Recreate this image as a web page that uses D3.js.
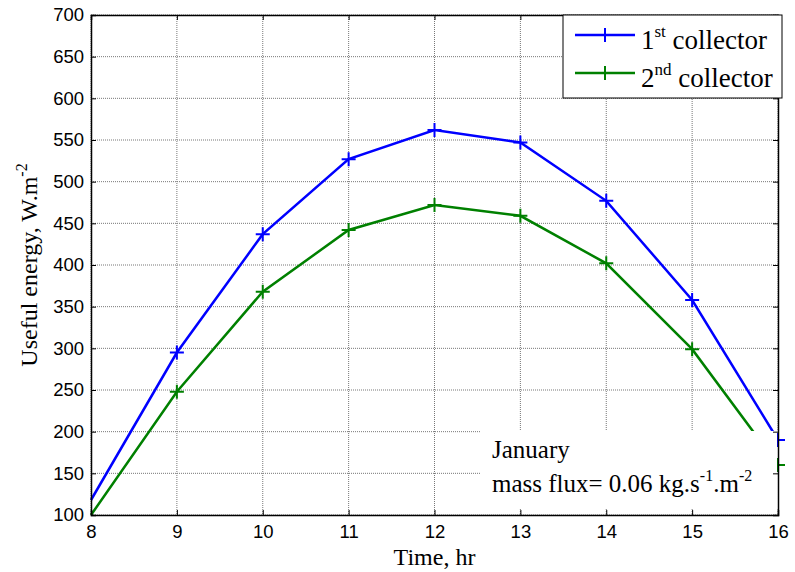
<!DOCTYPE html>
<html>
<head>
    <title>Useful energy</title>
    <script src="https://d3js.org/d3.v7.min.js"></script>
    <style>
        body { margin: 0; background: #fff; }
        .tick text { font-family: "Liberation Sans", Arial, sans-serif; font-size: 18.5px; fill: #000; }
        .lab { font-family: "Liberation Serif", "Times New Roman", serif; fill: #000; }
    </style>
</head>
<body>
    <svg id="chart"></svg>
    <script>
        const hours = [8, 9, 10, 11, 12, 13, 14, 15, 16];
        const collector1 = [118, 295, 437, 527, 562, 547, 477, 358, 190];
        const collector2 = [100, 248, 368, 442, 472, 459, 402, 299, 160];
        const xTicks = [8, 9, 10, 11, 12, 13, 14, 15, 16];
        const yTicks = [100, 150, 200, 250, 300, 350, 400, 450, 500, 550, 600, 650, 700];

        const width = 795, height = 572;
        const pLeft = 91, pRight = 778, pTop = 15, pBottom = 515;

        const svg = d3.select("#chart").attr("width", width).attr("height", height);

        const x = d3.scaleLinear().domain([8, 16]).range([pLeft, pRight]);
        const y = d3.scaleLinear().domain([100, 700]).range([pBottom, pTop]);

        // grid
        const grid = svg.append("g");
        grid.selectAll(".vg").data(xTicks).enter().append("line")
            .attr("x1", d => x(d)).attr("x2", d => x(d))
            .attr("y1", pTop).attr("y2", pBottom)
            .style("stroke", "#777").style("stroke-width", 1).style("stroke-dasharray", "1,1");
        grid.selectAll(".hg").data(yTicks).enter().append("line")
            .attr("x1", pLeft).attr("x2", pRight)
            .attr("y1", d => y(d)).attr("y2", d => y(d))
            .style("stroke", "#777").style("stroke-width", 1).style("stroke-dasharray", "1,1");

        const series = [
            { name: "1", sup: "st", values: collector1, color: "#0000ff" },
            { name: "2", sup: "nd", values: collector2, color: "#008000" }
        ];

        const line = d3.line().x((d, i) => x(hours[i])).y(d => y(d));

        function plus(g, cx, cy, color) {
            g.append("path")
                .attr("d", `M${cx - 7},${cy} H${cx + 7} M${cx},${cy - 7} V${cy + 7}`)
                .style("stroke", color).style("stroke-width", 2).style("fill", "none");
        }

        series.forEach(s => {
            svg.append("path").datum(s.values)
                .attr("d", line)
                .style("fill", "none").style("stroke", s.color).style("stroke-width", 2.5);
            const mg = svg.append("g");
            s.values.forEach((v, i) => {
                if (i > 0) plus(mg, x(hours[i]), y(v), s.color);
            });
        });

        // annotation box covering lines
        svg.append("rect")
            .attr("x", 480).attr("y", 431).attr("width", pRight - 480).attr("height", 77)
            .style("fill", "#fff");
        const ann = svg.append("text").attr("class", "lab").style("font-size", "25px");
        ann.append("tspan").attr("x", 492).attr("y", 458).text("January");
        const ann2 = svg.append("text").attr("class", "lab").style("font-size", "25px")
            .attr("x", 492).attr("y", 492);
        ann2.append("tspan").text("mass flux= 0.06 kg.s");
        ann2.append("tspan").attr("dy", -11).style("font-size", "16px").text("-1");
        ann2.append("tspan").attr("dy", 11).text(".m");
        ann2.append("tspan").attr("dy", -11).style("font-size", "16px").text("-2");

        // re-draw markers at 16 that sit beyond the box
        series.forEach(s => {
            const i = hours.length - 1;
            const cx = x(hours[i]), cy = y(s.values[i]);
            svg.append("path")
                .attr("d", `M${cx - 1},${cy} H${cx + 7} M${cx},${cy - 7} V${cy + 7}`)
                .style("stroke", s.color).style("stroke-width", 2).style("fill", "none");
        });

        // axes
        const xAxis = d3.axisBottom(x).tickValues(xTicks).tickSize(-5).tickPadding(10).tickFormat(d3.format("d"));
        const yAxis = d3.axisLeft(y).tickValues(yTicks).tickSize(-5).tickPadding(7);
        const xTop = d3.axisTop(x).tickValues(xTicks).tickSize(-5).tickFormat("");
        const yRight = d3.axisRight(y).tickValues(yTicks).tickSize(-5).tickFormat("");

        [[xAxis, `translate(0,${pBottom})`], [yAxis, `translate(${pLeft},0)`],
         [xTop, `translate(0,${pTop})`], [yRight, `translate(${pRight},0)`]].forEach(([ax, tr]) => {
            const g = svg.append("g").attr("transform", tr).call(ax);
            g.select(".domain").style("stroke", "#000").style("stroke-width", 1.5);
            g.selectAll(".tick line").style("stroke", "#000");
        });

        // legend
        const lg = svg.append("g");
        lg.append("rect").attr("x", 563).attr("y", 15).attr("width", 219).attr("height", 83)
            .style("fill", "#fff").style("stroke", "#000").style("stroke-width", 1);
        series.forEach((s, i) => {
            const ly = 35 + i * 38;
            lg.append("line").attr("x1", 575).attr("x2", 635).attr("y1", ly).attr("y2", ly)
                .style("stroke", s.color).style("stroke-width", 2.5);
            plus(lg, 605, ly, s.color);
            const t = lg.append("text").attr("class", "lab").style("font-size", "27px")
                .attr("x", 641).attr("y", ly + 14);
            t.append("tspan").text(s.name);
            t.append("tspan").attr("dy", -12).style("font-size", "17px").text(s.sup);
            t.append("tspan").attr("dy", 12).text(" collector");
        });

        // axis labels
        svg.append("text").attr("class", "lab").style("font-size", "24px")
            .attr("x", x(12)).attr("y", 565).attr("text-anchor", "middle").text("Time, hr");
        const yl = svg.append("text").attr("class", "lab").style("font-size", "24px")
            .attr("transform", "translate(37,265) rotate(-90)").attr("text-anchor", "middle");
        yl.append("tspan").text("Useful energy, W.m");
        yl.append("tspan").attr("dy", -10).style("font-size", "16px").text("-2");
    </script>
</body>
</html>
